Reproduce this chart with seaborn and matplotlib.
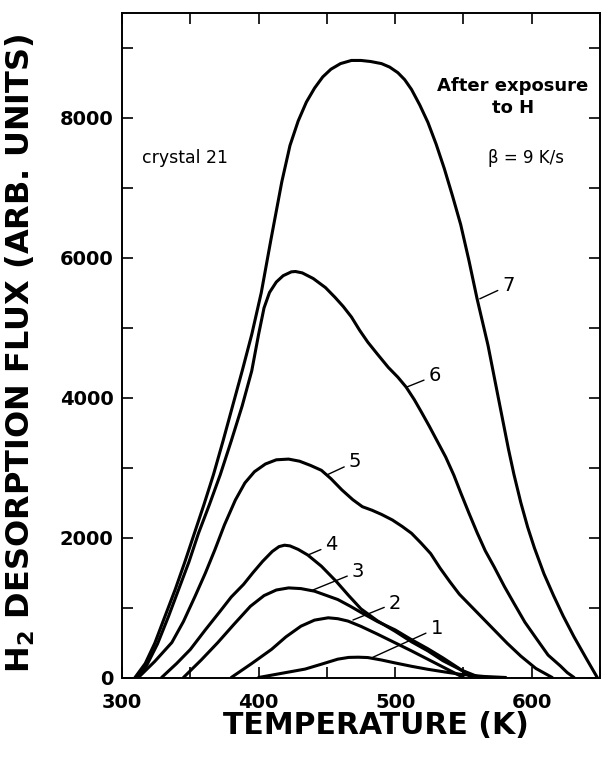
import pandas as pd
import seaborn as sns
import matplotlib
matplotlib.use("Agg")
import matplotlib.pyplot as plt
from matplotlib.ticker import MultipleLocator

# Thermal desorption spectra: temperature (K), H2 flux (arb. units)
T1 = [400, 417, 434, 446, 458, 466, 473, 480, 490, 499.5, 512, 524, 536, 548, 565, 581]
F1 = [0, 60, 120, 190, 262, 287, 290, 285, 250, 210, 160, 117, 80, 45, 15, 0]

T2 = [380, 395, 409.5, 420, 431, 441, 451, 458, 465.5, 475, 487, 499.5, 512, 524, 537, 550]
F2 = [0, 200, 402, 580, 733, 820, 853, 840, 806, 730, 620, 500, 380, 260, 130, 0]

T3 = [345, 358, 370, 382, 394, 404, 413, 422, 431, 441, 450, 458, 467, 475, 487, 500,
      512, 524, 535, 546, 556]
F3 = [0, 250, 496, 760, 1017, 1170, 1250, 1280, 1270, 1233, 1170, 1114, 1020, 930, 800,
      680, 540, 410, 280, 140, 0]

T4 = [329, 340, 350, 361, 372, 380, 389, 396, 403, 410, 415, 419, 423, 429, 436, 446,
      457, 466, 475, 487, 500, 512, 524, 535, 548, 562]
F4 = [0, 200, 400, 680, 950, 1150, 1330, 1500, 1660, 1800, 1870, 1890, 1880, 1830, 1750,
      1590, 1370, 1170, 980, 810, 660, 510, 380, 240, 110, 0]

T5 = [312, 324, 336.5, 345, 353.5, 361, 368, 375, 383, 390, 397, 405, 413, 422, 430, 438,
      446, 453, 461, 469, 476, 483, 490, 498, 505, 512, 519, 526, 533, 540, 547, 554,
      563, 572, 582, 592, 603, 615]
F5 = [0, 230, 500, 800, 1160, 1490, 1824, 2180, 2535, 2780, 2940, 3050, 3110, 3120, 3090,
      3030, 2960, 2840, 2680, 2540, 2440, 2390, 2330, 2250, 2160, 2060, 1920, 1770, 1560,
      1370, 1190, 1050, 870, 690, 490, 306, 130, 0]

T6 = [311, 318, 326, 334, 341.5, 349, 356, 364, 372, 380, 388, 395, 400, 404, 408, 413,
      418, 424, 427, 432, 440, 449, 456, 462, 468, 474, 480, 487, 495, 502, 508, 514, 519,
      525, 531, 537, 543, 548, 554, 560, 566, 572.5, 580, 587, 595, 604, 612, 621, 626, 631]
F6 = [0, 170, 480, 870, 1260, 1650, 2060, 2470, 2900, 3380, 3880, 4380, 4900, 5280, 5500,
      5650, 5740, 5795, 5800, 5780, 5700, 5570, 5430, 5300, 5150, 4960, 4790, 4620, 4430,
      4290, 4150, 3970, 3800, 3590, 3370, 3150, 2890, 2640, 2350, 2070, 1810, 1580, 1300,
      1060, 790, 540, 320, 165, 70, 0]

T7 = [309.5, 317, 324, 331, 339, 346, 353, 360, 367, 374, 381, 388, 395, 402, 409, 417,
      423, 429, 435, 441, 447, 453, 460, 468, 475, 482, 490, 496, 502, 507, 512, 518, 524,
      530, 536, 542, 548, 554, 560, 568, 575, 583, 587, 592, 597, 602, 609, 616, 623, 631,
      640, 648]
F7 = [0, 200, 490, 850, 1260, 1650, 2060, 2470, 2900, 3380, 3880, 4380, 4900, 5500, 6250,
      7080, 7600, 7950, 8220, 8420, 8580, 8690, 8770, 8815, 8815, 8800, 8770, 8720, 8640,
      8540, 8400, 8180, 7930, 7620, 7270, 6880, 6470, 5960, 5410, 4745, 4050, 3260, 2900,
      2500, 2150, 1850, 1480, 1170, 880, 580, 270, 0]

curve_ids = ["1", "2", "3", "4", "5", "6", "7"]
temps = [T1, T2, T3, T4, T5, T6, T7]
fluxes = [F1, F2, F3, F4, F5, F6, F7]

frames = []
for cid, t, f in zip(curve_ids, temps, fluxes):
    frames.append(pd.DataFrame({"T": t, "F": f, "curve": cid}))
df = pd.concat(frames, ignore_index=True)

sns.set_theme(style="ticks")
plt.rcParams["font.family"] = ["DejaVu Sans"]
plt.rcParams.update({"text.color": "black", "axes.labelcolor": "black",
                     "xtick.color": "black", "ytick.color": "black",
                     "axes.edgecolor": "black"})

fig = plt.figure(figsize=(6.02, 7.57), dpi=100)
ax = fig.add_axes([122 / 602, 1 - 677.5 / 757, 478 / 602, 665 / 757])

sns.lineplot(data=df, x="T", y="F", units="curve", estimator=None, sort=False,
             color="black", lw=2.2, legend=False, ax=ax)
for ln in ax.lines:
    ln.set_solid_joinstyle("round")

# curve numbers with short leader lines
label_xy = [(483.7, 289), (469.1, 821), (439.8, 1250), (436.2, 1750),
            (449.9, 2893), (508.6, 4150), (562, 5410)]
label_text_xy = [(530.4, 703), (499.9, 1064), (472.8, 1511), (453.5, 1893),
                 (470.6, 3080), (529, 4310), (583, 5600)]
for cid, xy, txy in zip(curve_ids, label_xy, label_text_xy):
    ax.annotate(cid, xy=xy, xytext=txy, ha="center", va="center", fontsize=14,
                arrowprops=dict(arrowstyle="-", lw=1.0, color="black",
                                shrinkA=1, shrinkB=0))

ax.text(314.6, 7420, "crystal 21", ha="left", va="center", fontsize=12.5)
ax.text(586, 8290, "After exposure\nto H", ha="center", va="center", fontsize=13,
        fontweight="bold", linespacing=1.3)
ax.text(596, 7421, "β = 9 K/s", ha="center", va="center", fontsize=12)

ax.set_xlim(300, 650)
ax.set_ylim(0, 9500)
ax.xaxis.set_major_locator(MultipleLocator(100))
ax.xaxis.set_minor_locator(MultipleLocator(50))
ax.yaxis.set_major_locator(MultipleLocator(2000))
ax.yaxis.set_minor_locator(MultipleLocator(1000))
ax.tick_params(which="both", direction="in", top=True, right=True,
               length=8, width=1.2, color="black")
ax.tick_params(axis="x", pad=11, labelsize=14)
ax.tick_params(axis="y", pad=6, labelsize=14)
for lab in ax.get_xticklabels() + ax.get_yticklabels():
    lab.set_fontweight("bold")

for sp in ax.spines.values():
    sp.set_linewidth(1.4)

ax.set_xlabel("TEMPERATURE (K)", fontsize=21.5, fontweight="bold")
ax.set_ylabel(r"H$_{\mathbf{2}}$ DESORPTION FLUX (ARB. UNITS)", fontsize=23,
              fontweight="bold")
ax.xaxis.set_label_coords(0.532, -0.05)
ax.yaxis.set_label_coords(-0.178, 0.487)

fig.savefig("out.png", dpi=100)
